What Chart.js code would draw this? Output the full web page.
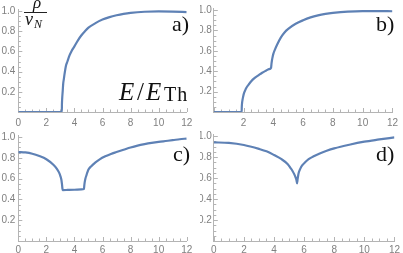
<!DOCTYPE html>
<html><head><meta charset="utf-8">
<script src="https://cdn.jsdelivr.net/npm/chart.js@4/dist/chart.umd.min.js"></script>
<style>
body{margin:0;width:403px;height:253px;background:#fff;position:relative;overflow:hidden}
canvas{position:absolute}
.lab{position:absolute;font-family:"Liberation Serif","DejaVu Serif",serif;color:#111;line-height:1;white-space:nowrap}
</style></head><body>
<canvas id="ca" width="200" height="126" style="left:0;top:0"></canvas>
<canvas id="cb" width="203" height="126" style="left:200px;top:0"></canvas>
<canvas id="cc" width="200" height="127" style="left:0;top:126px"></canvas>
<canvas id="cd" width="203" height="127" style="left:200px;top:126px"></canvas>

<span class="lab" style="left:33px;top:-6.5px;font-size:17px;font-style:italic">ρ</span>
<div style="position:absolute;left:24px;top:12px;width:23px;height:1px;background:#222"></div>
<span class="lab" style="left:25px;top:10px;font-size:18px;font-style:italic">ν</span>
<span class="lab" style="left:34px;top:18px;font-size:12px;font-style:italic">N</span>
<span class="lab" style="left:119px;top:79px;font-size:25px;font-style:italic">E</span>
<span class="lab" style="left:137px;top:79px;font-size:25px">/</span>
<span class="lab" style="left:146px;top:79px;font-size:25px;font-style:italic">E</span>
<span class="lab" style="left:164px;top:84px;font-size:20px;letter-spacing:1px">Th</span>
<span class="lab" style="left:172px;top:13px;font-size:22px">a)</span>
<span class="lab" style="left:376px;top:13px;font-size:22px">b)</span>
<span class="lab" style="left:173px;top:143px;font-size:22px">c)</span>
<span class="lab" style="left:376px;top:143px;font-size:22px">d)</span>

<script>
// ---- data ----
const xTickLabels = [0, 2, 4, 6, 8, 10, 12];
const yTickLabels = [0.2, 0.4, 0.6, 0.8, 1.0];

const aX = [0, 3.1, 3.11, 3.13, 3.16, 3.2, 3.25, 3.3, 3.4, 3.5, 3.65, 3.8, 4, 4.25, 4.5, 4.75, 5, 5.5, 6, 6.5, 7, 7.5, 8, 9, 10, 11, 12];
const aY = [0, 0, 0.08, 0.14, 0.2, 0.28, 0.33, 0.38, 0.46, 0.5, 0.56, 0.605, 0.65, 0.71, 0.76, 0.8, 0.835, 0.88, 0.915, 0.94, 0.958, 0.972, 0.982, 0.993, 0.996, 0.994, 0.99];

const bX = [0, 1.87, 1.88, 1.9, 1.93, 1.97, 2.02, 2.1, 2.2, 2.35, 2.5, 2.75, 3, 3.25, 3.5, 3.7, 3.85, 3.86, 3.88, 3.91, 3.95, 4.0, 4.1, 4.25, 4.5, 4.75, 5, 5.5, 6, 6.5, 7, 7.5, 8, 9, 10, 11, 12];
const bY = [0, 0, 0.05, 0.09, 0.12, 0.15, 0.18, 0.21, 0.24, 0.27, 0.3, 0.335, 0.36, 0.385, 0.405, 0.42, 0.435, 0.45, 0.48, 0.51, 0.54, 0.57, 0.61, 0.66, 0.73, 0.78, 0.815, 0.865, 0.9, 0.928, 0.948, 0.962, 0.972, 0.985, 0.99, 0.99, 0.988];

const cX = [0, 0.5, 1, 1.5, 2, 2.5, 2.75, 2.9, 3.0, 3.07, 3.11, 3.14, 3.16, 3.5, 4, 4.5, 4.68, 4.7, 4.73, 4.78, 4.85, 4.92, 5, 5.2, 5.5, 5.8, 6.2, 6.6, 7, 7.5, 8, 8.5, 9, 9.5, 10, 10.5, 11, 11.5, 12];
const cY = [0.856, 0.852, 0.84, 0.818, 0.787, 0.734, 0.695, 0.66, 0.625, 0.59, 0.55, 0.51, 0.49, 0.491, 0.493, 0.497, 0.5, 0.53, 0.565, 0.6, 0.63, 0.66, 0.688, 0.72, 0.757, 0.786, 0.815, 0.838, 0.856, 0.878, 0.9, 0.918, 0.932, 0.944, 0.954, 0.962, 0.97, 0.979, 0.986];

const dX = [0, 1, 2, 3, 3.5, 4, 4.5, 4.9, 5.1, 5.22, 5.35, 5.45, 5.5, 5.53, 5.56, 5.6, 5.65, 5.75, 5.87, 6.1, 6.3, 6.6, 7, 7.5, 8, 9, 10, 11, 12];
const dY = [0.94, 0.935, 0.915, 0.878, 0.855, 0.82, 0.78, 0.734, 0.695, 0.67, 0.635, 0.6, 0.575, 0.55, 0.58, 0.62, 0.655, 0.69, 0.72, 0.755, 0.78, 0.805, 0.832, 0.86, 0.883, 0.918, 0.947, 0.968, 0.988];

// ---- styling ----
const AXIS = '#b4b4b4';
const LABEL = '#808080';
const LINE = '#5e81b5';

const tickPlugin = {
  id: 'innerTicks',
  beforeDatasetsDraw(chart) {
    const { ctx, scales: { x, y } } = chart;
    const y0 = y.getPixelForValue(0), x0 = x.getPixelForValue(0);
    ctx.save();
    ctx.strokeStyle = AXIS; ctx.lineWidth = 1;
    for (let i = 0; i <= 24; i++) {
      const v = i * 0.5;
      const px = Math.round(x.getPixelForValue(v)) + 0.5;
      const len = (i % 4 === 0) ? 4 : 2.5;
      ctx.beginPath(); ctx.moveTo(px, y0); ctx.lineTo(px, y0 - len); ctx.stroke();
    }
    for (let i = 0; i <= 20; i++) {
      const v = i * 0.05;
      const py = Math.round(y.getPixelForValue(v)) + 0.5;
      const len = (i % 4 === 0) ? 4 : 2.5;
      ctx.beginPath(); ctx.moveTo(x0, py); ctx.lineTo(x0 + len, py); ctx.stroke();
    }
    ctx.restore();
  }
};

function panel(id, xs, ys, g) {
  new Chart(document.getElementById(id), {
    type: 'line',
    data: { datasets: [{ data: xs.map((v, i) => ({ x: v, y: ys[i] })), borderColor: LINE, borderWidth: 2.2, pointRadius: 0, cubicInterpolationMode: 'monotone', fill: false }] },
    options: {
      responsive: false, animation: false, events: [],
      layout: { padding: { left: 0, right: g.pr, top: g.pt, bottom: 0 } },
      plugins: { legend: { display: false }, tooltip: { enabled: false } },
      scales: {
        x: {
          type: 'linear', min: 0, max: 12,
          grid: { display: false, drawTicks: false },
          border: { display: true, color: AXIS, width: 1 },
          afterBuildTicks: s => { s.ticks = xTickLabels.map(v => ({ value: v })); },
          afterFit: s => { s.height = g.xh; },
          ticks: { color: LABEL, font: { family: 'Liberation Sans', size: 10 }, padding: g.xp, maxRotation: 0, autoSkip: false,
                   callback: v => (g.hideZero && v === 0) ? '' : String(v) }
        },
        y: {
          type: 'linear', min: 0, max: 1.02,
          grid: { display: false, drawTicks: false },
          border: { display: true, color: AXIS, width: 1 },
          afterBuildTicks: s => { s.ticks = yTickLabels.map(v => ({ value: v })); },
          afterFit: s => { s.width = g.yw; },
          ticks: { color: LABEL, font: { family: 'Liberation Sans', size: 10 }, padding: g.yp, autoSkip: false,
                   callback: v => v.toFixed(1) }
        }
      }
    },
    plugins: [tickPlugin]
  });
}

panel('ca', aX, aY, { yw: 18.3, pr: 13.3, pt: 1.8, xh: 14, xp: 5, yp: 3, hideZero: false });
panel('cb', bX, bY, { yw: 13.8, pr: 6.3, pt: 1.8, xh: 14, xp: 5, yp: 2, hideZero: true });
panel('cc', cX, cY, { yw: 18.3, pr: 13.3, pt: 3.8, xh: 12, xp: 3, yp: 3, hideZero: false });
panel('cd', dX, dY, { yw: 13.8, pr: 6.3, pt: 3.8, xh: 12, xp: 3, yp: 2, hideZero: false });
</script>
</body></html>
